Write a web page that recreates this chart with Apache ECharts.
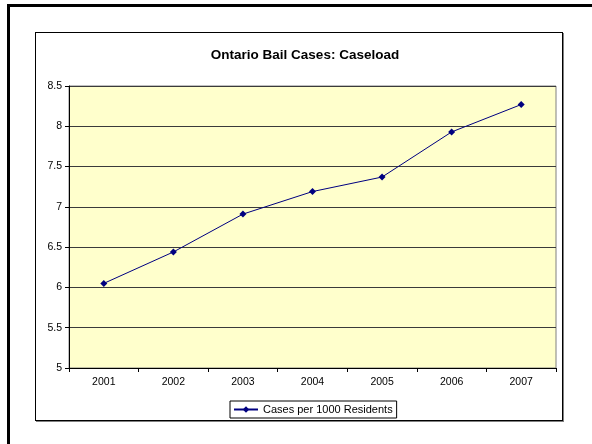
<!DOCTYPE html>
<html>
<head>
<meta charset="utf-8">
<script src="https://cdn.jsdelivr.net/npm/echarts@6/dist/echarts.min.js"></script>
<style>
  html, body { margin: 0; padding: 0; background: #fff; }
  #frame { position: absolute; left: 7px; top: 4px; width: 600px; height: 460px; border: 3px solid #000; box-sizing: border-box; }
  #box { position: absolute; left: 35px; top: 32px; width: 528px; height: 389px; border: 1px solid #000; box-shadow: 1px 1px 0 #808080; box-sizing: border-box; background: #fff; }
  #main { position: absolute; left: 0; top: 0; width: 592px; height: 444px; }
</style>
</head>
<body>
<div id="frame"></div>
<div id="box"></div>
<div id="main"></div>
<script>
// data
const years = ['2001', '2002', '2003', '2004', '2005', '2006', '2007'];
const casesPer1000 = [6.05, 6.44, 6.91, 7.19, 7.37, 7.93, 8.27];
const seriesName = 'Cases per 1000 Residents';
const chartTitle = 'Ontario Bail Cases: Caseload';

const chart = echarts.init(document.getElementById('main'));

const option = {
    animation: false,
    backgroundColor: 'transparent',
    textStyle: { fontFamily: 'Liberation Sans, Arial, sans-serif' },
    title: {
        text: chartTitle,
        left: 300,
        top: 43,
        textAlign: 'center',
        textStyle: { fontSize: 13.5, fontWeight: 'bold', color: '#000', fontFamily: 'Liberation Sans, Arial, sans-serif' }
    },
    grid: {
        left: 69, top: 86, right: 36, bottom: 76,
        show: true,
        backgroundColor: '#FFFFCC',
        borderColor: '#808080',
        borderWidth: 1
    },
    legend: {
        data: [seriesName],
        left: 230,
        top: 401,
        itemWidth: 24,
        itemHeight: 8,
        itemGap: 4,
        padding: [3, 4, 3, 3],
        borderColor: '#000',
        borderWidth: 1,
        textStyle: { fontSize: 11, color: '#000' }
    },
    xAxis: {
        type: 'category',
        data: years,
        boundaryGap: true,
        axisLine: { lineStyle: { color: '#000', width: 1 } },
        axisTick: { show: true, length: 4, lineStyle: { color: '#000' } },
        axisLabel: { fontSize: 10.5, color: '#000', margin: 9 },
        splitLine: { show: false }
    },
    yAxis: {
        type: 'value',
        min: 5,
        max: 8.5,
        interval: 0.5,
        axisLine: { show: true, lineStyle: { color: '#000', width: 1 } },
        axisTick: { show: true, length: 4, lineStyle: { color: '#000' } },
        axisLabel: { fontSize: 10.5, color: '#000', margin: 7 },
        splitLine: { show: true, lineStyle: { color: '#3a3a3a', width: 1 } }
    },
    series: [{
        name: seriesName,
        type: 'line',
        data: casesPer1000,
        symbol: 'diamond',
        symbolSize: 7,
        lineStyle: { color: '#000080', width: 1 },
        itemStyle: { color: '#000080' }
    }]
};

chart.setOption(option);
</script>
</body>
</html>
